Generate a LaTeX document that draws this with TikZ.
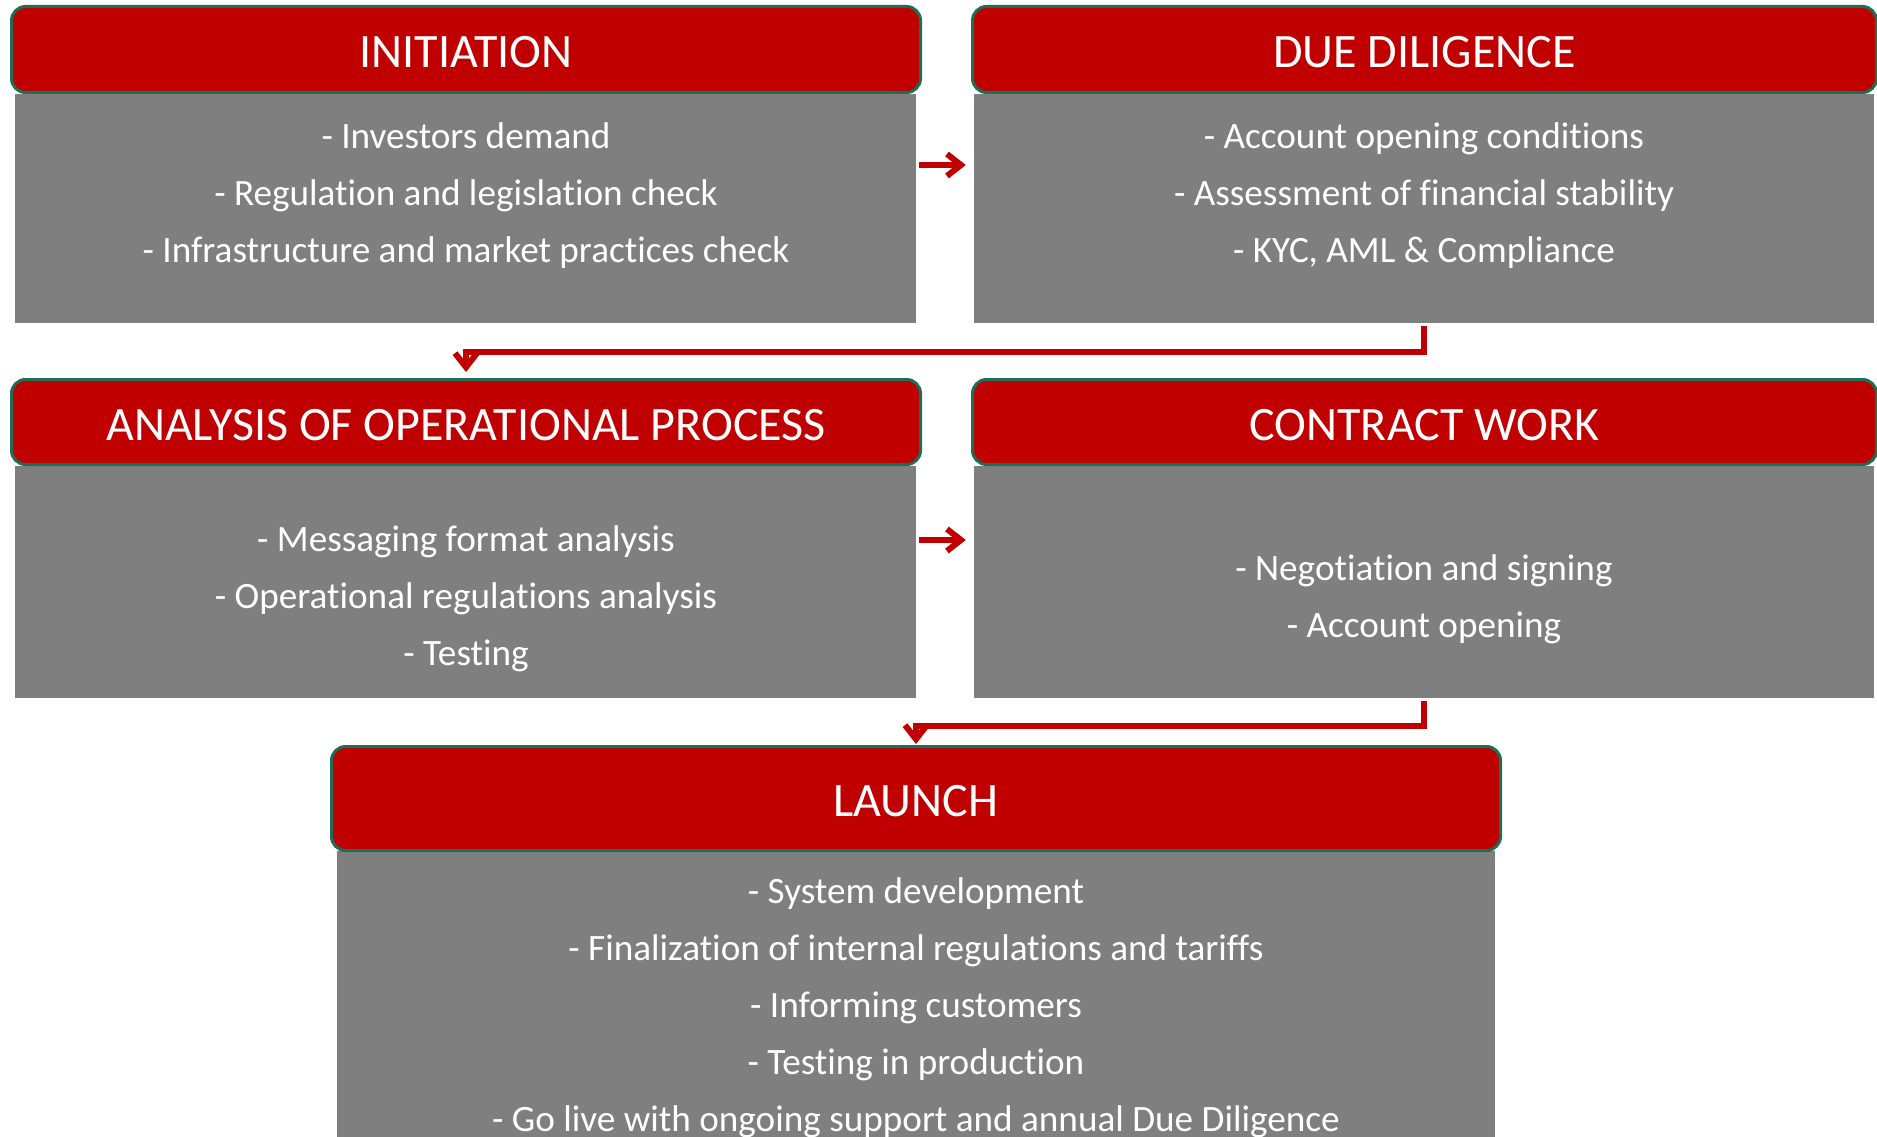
\documentclass[tikz,border=0pt]{standalone}
\usepackage{fontspec}
\setmainfont{Carlito}[Ligatures=NoCommon]
\usetikzlibrary{arrows.meta}
\definecolor{hred}{RGB}{192,0,0}
\definecolor{bgray}{RGB}{127,127,127}
\definecolor{hedge}{RGB}{30,110,85}
\begin{document}
\begin{tikzpicture}[x=1pt,y=-1pt,
  hdr/.style={draw=hedge, line width=3pt, fill=hred, rounded corners=14pt, text=white,
    font=\fontsize{48}{56}\selectfont, inner sep=0pt, text height=36pt, text depth=0pt},
  bx/.style={fill=bgray, inner sep=0pt},
  txt/.style={text=white, align=center, font=\fontsize{37.2}{57}\selectfont, inner sep=0pt},
  arr/.style={draw=hred, line width=6pt, -{Straight Barb[length=14pt,width=22pt]}}]
\useasboundingbox (0,0) rectangle (1877,1137);
% gray bodies
\node[bx, minimum width=901pt, minimum height=229pt] (ib) at (465.5,208.5) {};
\node[bx, minimum width=900pt, minimum height=229pt] (db) at (1424,208.5) {};
\node[bx, minimum width=901pt, minimum height=232pt] (ab) at (465.5,582) {};
\node[bx, minimum width=900pt, minimum height=232pt] (cb) at (1424,582) {};
\node[bx, minimum width=1158pt, minimum height=286pt] (lb) at (916,994) {};
% headers
\node[hdr, minimum width=909pt, minimum height=86pt] (ih) at (466,49.5) {INITIATION};
\node[hdr, minimum width=904pt, minimum height=86pt] (dh) at (1424.5,49.5) {DUE DILIGENCE};
\node[hdr, minimum width=909pt, minimum height=85pt] (ah) at (466,422) {ANALYSIS OF OPERATIONAL PROCESS};
\node[hdr, minimum width=904pt, minimum height=85pt] (ch) at (1424.5,422) {CONTRACT WORK};
\node[hdr, minimum width=1169pt, minimum height=104pt] (lh) at (916,798.5) {LAUNCH};
% texts
\node[txt] (t1) at (466,195.6) {- Investors demand\\- Regulation and legislation check\\- Infrastructure and market practices check};
\node[txt] (t2) at (1424,195.6) {- Account opening conditions\\- Assessment of financial stability\\- KYC, AML \& Compliance};
\node[txt] (t3) at (466,598.6) {- Messaging format analysis\\- Operational regulations analysis\\- Testing};
\node[txt] (t4) at (1424,599.1) {- Negotiation and signing\\- Account opening};
\node[txt] (t5) at (916,1008.1) {- System development\\- Finalization of internal regulations and tariffs\\- Informing customers\\- Testing in production\\- Go live with ongoing support and annual Due Diligence};
% arrows
\coordinate (r1) at (0,165);
\coordinate (r2) at (0,540);
\draw[arr, shorten <=3pt, shorten >=8pt] (ib.east |- r1) -- (db.west |- r1);
\draw[arr, shorten <=3pt, shorten >=8pt] (ab.east |- r2) -- (cb.west |- r2);
\draw[arr, shorten <=3pt, shorten >=6pt] (db.south) -- ++(0,29) -| (ah.north);
\draw[arr, shorten <=3pt, shorten >=1pt] (cb.south) -- ++(0,28) -| (lh.north);
\end{tikzpicture}
\end{document}
